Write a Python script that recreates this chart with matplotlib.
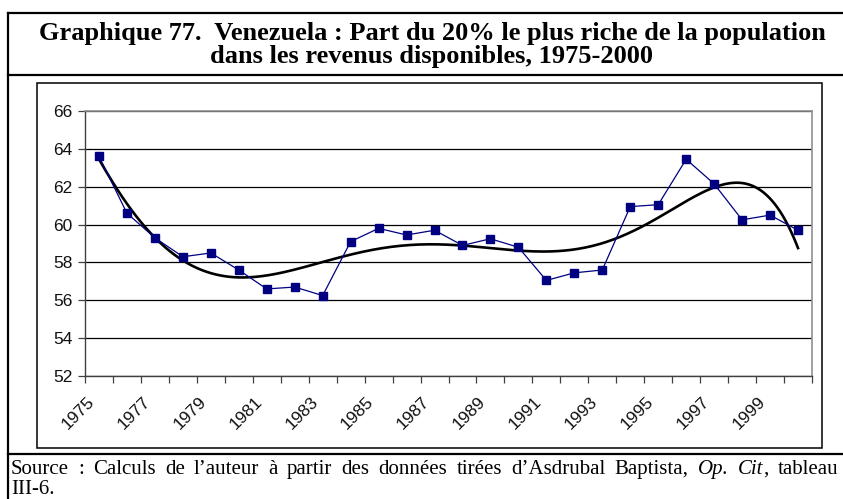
import numpy as np
import matplotlib
matplotlib.use("Agg")
import matplotlib.pyplot as plt
from matplotlib.lines import Line2D
from matplotlib.patches import Rectangle

W, H = 843, 499

years = list(range(1975, 2001))
part_riche = [63.6, 60.6, 59.3, 58.3, 58.5, 57.6, 56.6, 56.7, 56.25, 59.1,
              59.8, 59.45, 59.7, 58.9, 59.25, 58.8, 57.05, 57.45, 57.6, 60.95,
              61.05, 63.45, 62.15, 60.25, 60.5, 59.7]
tick_years = [str(y) for y in range(1975, 2000, 2)]

title_l1 = "Graphique 77.  Venezuela : Part du 20% le plus riche de la population"
title_l2 = "dans les revenus disponibles, 1975-2000"
# source note, pieces flagged italic or not
source_words = [
    [("Source", False)], [(":", False)], [("Calculs", False)], [("de", False)],
    [("l\u2019auteur", False)], [("à", False)], [("partir", False)], [("des", False)],
    [("données", False)], [("tirées", False)], [("d\u2019Asdrubal", False)],
    [("Baptista,", False)], [("Op.", True)], [("Cit", True), (",", False)],
    [("tableau", False)],
]
source_l2 = "III-6."

fig = plt.figure(figsize=(W / 100, H / 100), dpi=100)
fig.patch.set_facecolor("white")


def fx(x):
    return x / W


def fy(y):
    return 1 - y / H


# frame lines around title / chart / source
for xs, ys in [([8, W], [13, 13]), ([8, W], [75, 75]), ([8, W], [454, 454]),
               ([8, 8], [13, H])]:
    fig.add_artist(Line2D([fx(x) for x in xs], [fy(y) for y in ys],
                          color="black", lw=1.6))
fig.add_artist(Rectangle((fx(37), fy(448)), fx(822 - 37), (448 - 83) / H,
                         fill=False, edgecolor="black", lw=1.1))

serif = "Liberation Serif"
fig.text(fx(432), fy(40), title_l1, ha="center", va="baseline",
         fontsize=19, fontweight="bold", family=serif)
fig.text(fx(432), fy(63), title_l2, ha="center", va="baseline",
         fontsize=19, fontweight="bold", family=serif)

ax = fig.add_axes([fx(85), fy(376), fx(812 - 85), (376 - 111) / H])
x = np.arange(len(years))

# polynomial trend (order 6) of the series
trend = np.polynomial.Polynomial.fit(x, part_riche, 6)
xt = np.linspace(0, len(years) - 1, 300)
ax.plot(xt, trend(xt), color="black", lw=1.9, zorder=3)
ax.plot(x, part_riche, color="#000080", lw=0.9, marker="s", ms=5.8,
        mec="#000080", mfc="#000080", zorder=4)

ax.set_xlim(-0.5, len(years) - 0.5)
ax.set_ylim(52, 66)
ax.set_yticks(range(52, 67, 2))
ax.yaxis.grid(True, color="black", lw=0.9)
ax.set_axisbelow(True)
ax.set_xticks(np.arange(-0.5, len(years), 1), minor=False)
ax.set_xticklabels([])
for i, lab in enumerate(tick_years):
    ax.text(2 * i - 0.45, 51.05, lab, rotation=45, ha="right", va="top",
            rotation_mode="anchor", fontsize=12.5, family="Liberation Sans",
            color="#111111")
ax.tick_params(axis="x", direction="out", length=5, width=0.9, color="#404040")
ax.tick_params(axis="y", direction="out", length=5, width=0.9, color="#404040",
               labelsize=12.5, pad=4)
for t in ax.get_yticklabels():
    t.set_family("Liberation Sans")
    t.set_color("#111111")
for side in ["top", "right"]:
    ax.spines[side].set_color("#909090")
    ax.spines[side].set_linewidth(1.2)
for side in ["left", "bottom"]:
    ax.spines[side].set_color("#404040")
    ax.spines[side].set_linewidth(1.0)

# justified source line
renderer = fig.canvas.get_renderer()
fs_src = 15
pieces = []
total = 0.0
for word in source_words:
    wparts = []
    ww = 0.0
    for txt, it in word:
        t = fig.text(0, fy(474), txt, fontsize=fs_src, family=serif,
                     style="italic" if it else "normal", va="baseline")
        bb = t.get_window_extent(renderer)
        wparts.append((t, bb.width))
        ww += bb.width
    pieces.append((wparts, ww))
    total += ww
left, right = 11, 838
gap = (right - left - total) / (len(pieces) - 1)
xpos = left
for wparts, ww in pieces:
    xx = xpos
    for t, w in wparts:
        t.set_x(fx(xx))
        xx += w
    xpos += ww + gap
fig.text(fx(11), fy(494), source_l2, fontsize=fs_src, family=serif, va="baseline")

fig.savefig("out.png", dpi=100)
